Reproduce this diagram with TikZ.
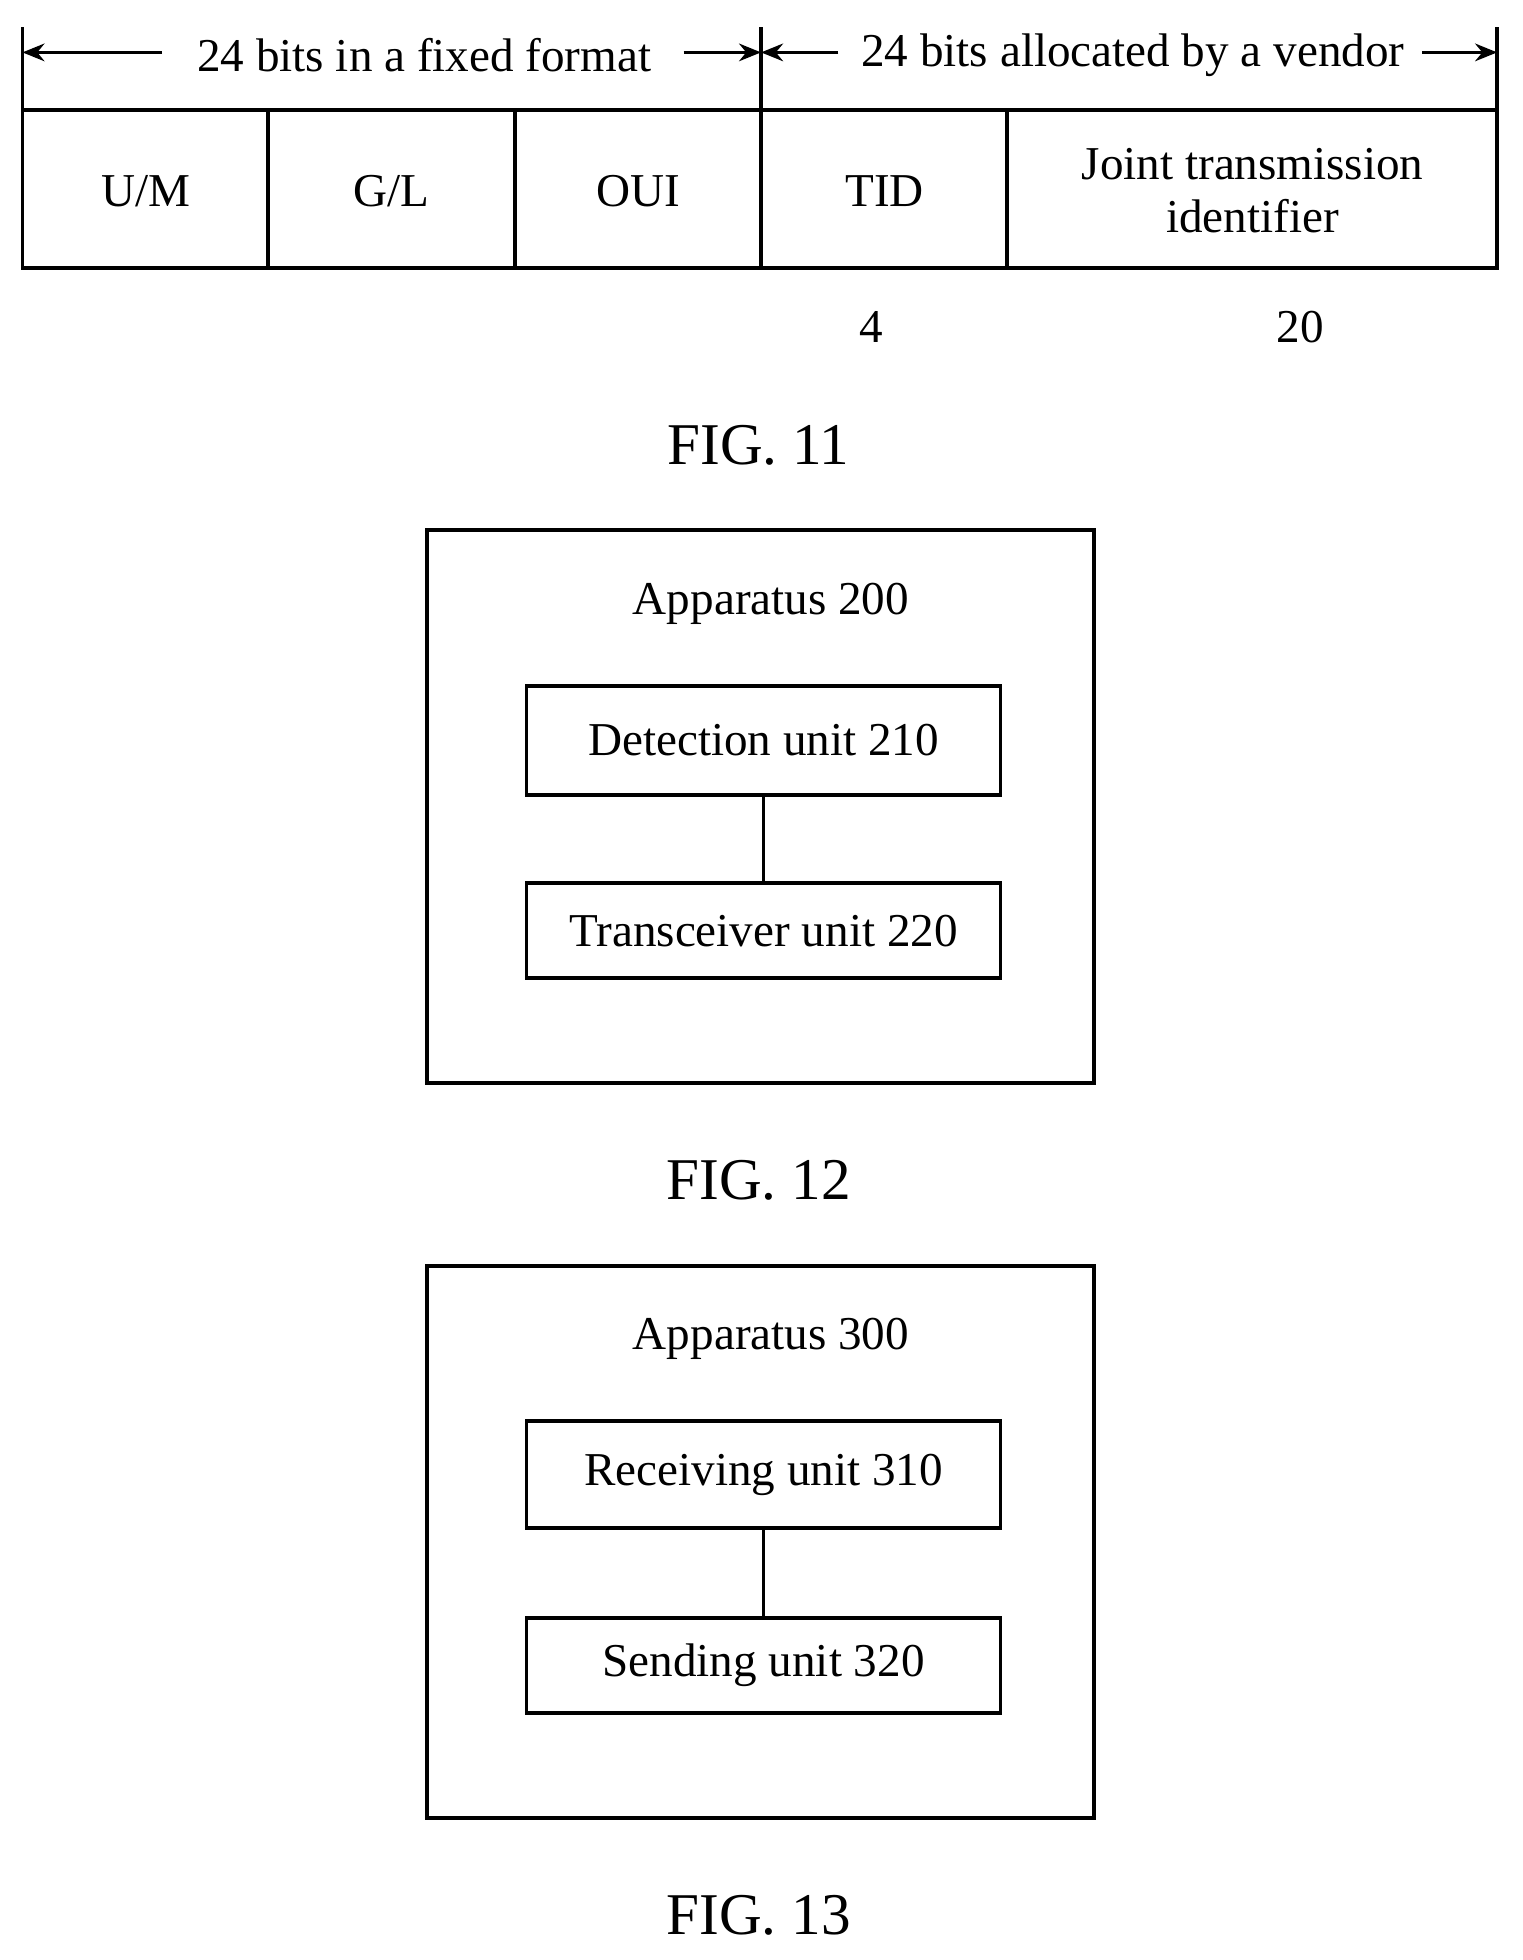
\documentclass[tikz,border=0pt]{standalone}
\usepackage{fontspec}
\setmainfont{Liberation Serif}
\usetikzlibrary{arrows.meta}
\begin{document}
\begin{tikzpicture}[x=0.02cm,y=-0.02cm,
  ln/.style={line width=1.7pt},
  t/.style={font=\fontsize{21.5}{24}\selectfont,inner sep=0pt},
  fig/.style={font=\fontsize{27}{31}\selectfont,inner sep=0pt},
  arr/.style={line width=1.7pt,-{Stealth[length=10pt,width=8pt]}}]
\useasboundingbox (0,0) rectangle (1220,1571);
% FIG 11
\draw[ln] (18,88) rectangle (1200,215);
\foreach \x in {215,413,610,807} \draw[ln] (\x,88) -- (\x,215);
\draw[ln] (18,22) -- (18,88) (610,22) -- (610,88) (1200,22) -- (1200,88);
\node[t] (f) at (340,44) {24 bits in a fixed format};
\node[t] (v) at (908,44) {24 bits allocated by a vendor};
\coordinate (a1) at (18,42); \coordinate (a2) at (610,42);
\coordinate (a3) at (1200,42);
\coordinate (b1) at (130,42); \coordinate (b2) at (548,42);
\coordinate (b3) at (672,42); \coordinate (b4) at (1140,42);
\draw[arr] (b1) -- (a1);
\draw[arr] (b2) -- (a2);
\draw[arr] (b3) -- (a2);
\draw[arr] (b4) -- (a3);
\node[t] at (117,153) {U/M};
\node[t] at (314,153) {G/L};
\node[t] at (512,153) {OUI};
\node[t] at (709,153) {TID};
\node[t,align=center] at (1004,153) {Joint transmission\\identifier};
\node[t] at (698,262) {4};
\node[t] at (1042,262) {20};
\node[fig] at (608,357) {FIG. 11};
% FIG 12
\draw[ln] (342,425) rectangle (877,868);
\node[t] at (618,484) {Apparatus 200};
\node[t,draw,ln,minimum width=7.6cm,minimum height=1.74cm] (d) at (612,593.5) {Detection unit 210};
\node[t,draw,ln,minimum width=7.6cm,minimum height=1.52cm] (tr) at (612,746) {Transceiver unit 220};
\draw[ln] (d) -- (tr);
\node[fig] at (608,946) {FIG. 12};
% FIG 13
\draw[ln] (342,1015) rectangle (877,1457);
\node[t] at (618,1073) {Apparatus 300};
\node[t,draw,ln,minimum width=7.6cm,minimum height=1.72cm] (r) at (612,1182) {Receiving unit 310};
\node[t,draw,ln,minimum width=7.6cm,minimum height=1.52cm] (s) at (612,1335) {Sending unit 320};
\draw[ln] (r) -- (s);
\node[fig] at (608,1535) {FIG. 13};
\end{tikzpicture}
\end{document}
